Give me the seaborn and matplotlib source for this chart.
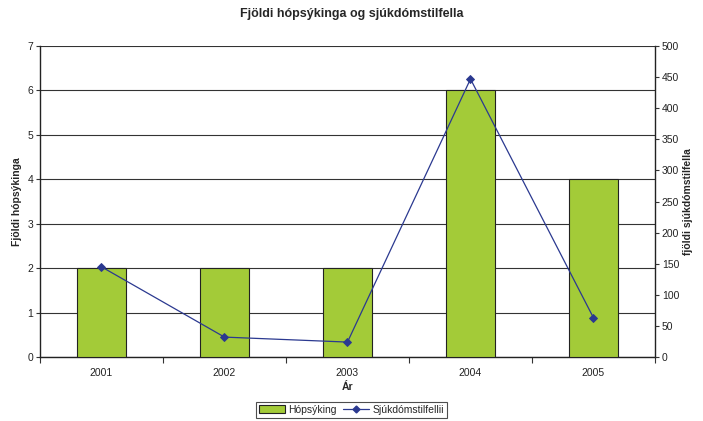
import matplotlib
matplotlib.use("Agg")
import matplotlib.pyplot as plt
import seaborn as sns
import pandas as pd
from matplotlib.patches import Patch
from matplotlib.lines import Line2D

years = ["2001", "2002", "2003", "2004", "2005"]
outbreaks = [2, 2, 2, 6, 4]
cases = [145, 32, 24, 447, 63]

title = "Fjöldi hópsýkinga og sjúkdómstilfella"
xlabel = "Ár"
ylabel_left = "Fjöldi hópsýkinga"
ylabel_right = "fjöldi sjúkdómstilfella"
legend_labels = ["Hópsýking", "Sjúkdómstilfellii"]

sns.set_theme(style="white")
plt.rcParams["font.family"] = ["Liberation Sans", "DejaVu Sans"]

bar_color = "#A3CB38"
line_color = "#2B3990"

df = pd.DataFrame({"year": years, "outbreaks": outbreaks, "cases": cases})

fig = plt.figure(figsize=(7.03, 4.21), dpi=100)
ax = fig.add_axes([0.0569, 0.152, 0.8748, 0.7387])

sns.barplot(data=df, x="year", y="outbreaks", ax=ax, color=bar_color,
            width=0.4, edgecolor="#222222", linewidth=0.8, saturation=1, zorder=3)
ax.set_ylim(0, 7)
ax.set_xlim(-0.5, 4.5)
ax.set_yticks(range(0, 8))
ax.yaxis.grid(True, color="#333333", linewidth=0.8, zorder=0)
ax.set_axisbelow(True)
ax.tick_params(axis="y", labelsize=7.5, length=3, width=0.8, color="#333333",
               left=True, pad=2, colors="#222222")
ax.tick_params(axis="x", which="major", length=0, labelsize=7.5, pad=8, colors="#222222")
ax.set_xticks([-0.5, 0.5, 1.5, 2.5, 3.5, 4.5], minor=True)
ax.tick_params(axis="x", which="minor", length=4, width=0.8, color="#333333", bottom=True,
               direction="out")
ax.set_xlabel(xlabel, fontsize=7.5, fontweight="bold", labelpad=3)
ax.set_ylabel(ylabel_left, fontsize=7.5, fontweight="bold", labelpad=4)
for s in ["left", "bottom", "right"]:
    ax.spines[s].set_color("#222222")
    ax.spines[s].set_linewidth(1.0)
ax.spines["top"].set_visible(False)

ax2 = ax.twinx()
sns.pointplot(data=df, x="year", y="cases", ax=ax2, color=line_color,
              markers="D", markersize=4, linewidth=0.9, errorbar=None)
ax2.set_ylim(0, 500)
ax2.set_xlim(-0.5, 4.5)
ax2.set_yticks(range(0, 501, 50))
ax2.tick_params(axis="y", labelsize=7.5, length=3, width=0.8, color="#333333",
                right=True, pad=2, colors="#222222")
ax2.set_ylabel(ylabel_right, fontsize=7.5, fontweight="bold", labelpad=3)
for s in ["left", "bottom", "right", "top"]:
    ax2.spines[s].set_visible(False)

fig.suptitle(title, fontsize=9, fontweight="bold", y=0.98)

handles = [Patch(facecolor=bar_color, edgecolor="#222222", linewidth=0.8),
           Line2D([0], [0], color=line_color, marker="D", markersize=3.5, linewidth=0.9)]
leg = fig.legend(handles, legend_labels, loc="lower center", bbox_to_anchor=(0.5, 0.0),
                 ncol=2, fontsize=7.5, frameon=True, fancybox=False, edgecolor="#222222",
                 handlelength=2.5, handleheight=0.8, columnspacing=0.6, handletextpad=0.3,
                 borderpad=0.3, borderaxespad=0.3)
leg.get_frame().set_linewidth(0.8)

fig.savefig("out.png", dpi=100)
